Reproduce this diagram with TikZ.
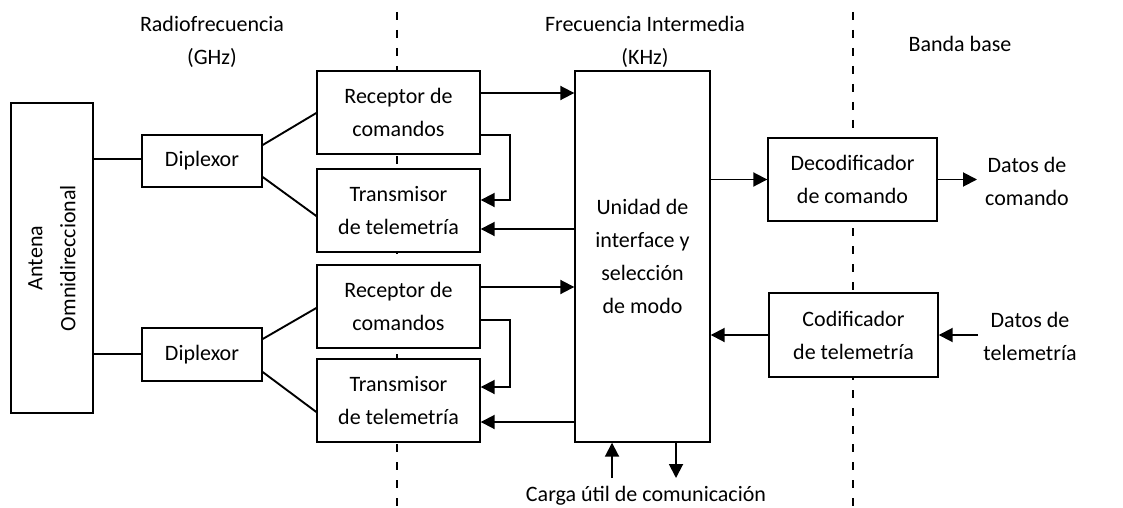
\documentclass[tikz,border=0pt]{standalone}
\usepackage{fontspec}
\setmainfont{Carlito}
\usetikzlibrary{arrows.meta,calc}
\begin{document}
\begin{tikzpicture}[x=1pt,y=-1pt,
  box/.style={draw,fill=white,line width=1.4pt,inner sep=0pt,align=center,font=\fontsize{22}{33}\selectfont},
  lbl/.style={align=center,inner sep=0pt,font=\fontsize{22}{33}\selectfont},
  conn/.style={line width=1.9pt},
  arr/.style={line width=1.9pt,-{Triangle[length=14pt,width=14pt]}},
  divider/.style={line width=2.5pt,dash pattern=on 8pt off 10pt}]
\useasboundingbox (0,0) rectangle (1123,508);
% dividers
\coordinate (d1t) at (397,12); \coordinate (d1b) at (397,508);
\coordinate (d2t) at (853,12); \coordinate (d2b) at (853,508);
\draw[divider] (d1t) -- (d1b);
\draw[divider] (d2t) -- (d2b);
% titles
\node[lbl] (t1) at (212,42) {Radiofrecuencia\\(GHz)};
\node[lbl] (t2) at (645,42) {Frecuencia Intermedia\\(KHz)};
\node[lbl] (t3) at (960,44) {Banda base};
% boxes
\node[box,minimum width=82pt,minimum height=310pt] (ant) at (52,258) {};
\node[lbl,rotate=90] (antt) at (ant.center) {Antena\\Omnidireccional};
\node[box,minimum width=120pt,minimum height=52pt] (dip1) at (202,161) {Diplexor};
\node[box,minimum width=120pt,minimum height=53pt] (dip2) at (202,354.5) {Diplexor};
\node[box,minimum width=163pt,minimum height=83pt] (rec1) at (398.5,112.5) {Receptor de\\comandos};
\node[box,minimum width=163pt,minimum height=83pt] (tx1) at (398.5,210.5) {Transmisor\\de telemetría};
\node[box,minimum width=163pt,minimum height=83pt] (rec2) at (398.5,306.5) {Receptor de\\comandos};
\node[box,minimum width=163pt,minimum height=83pt] (tx2) at (398.5,400.5) {Transmisor\\de telemetría};
\node[box,minimum width=135pt,minimum height=371pt] (unit) at (642.5,256.5) {Unidad de\\interface y\\selección\\de modo};
\node[box,minimum width=169pt,minimum height=83pt] (dec) at (852.5,179.5) {Decodificador\\de comando};
\node[box,minimum width=169pt,minimum height=84pt] (cod) at (853.5,335) {Codificador\\de telemetría};
% outside labels
\node[lbl] (dcom) at (1027,181) {Datos de\\comando};
\node[lbl] (dtel) at (1030,336) {Datos de\\telemetría};
\node[lbl] (carga) at (646,496) {Carga útil de comunicación};
% antenna to diplexors
\draw[conn] (ant.east |- 0,159) -- (dip1.west |- 0,159);
\draw[conn] (ant.east |- 0,354) -- (dip2.west |- 0,354);
% diplexors to rx/tx
\draw[conn] ($(dip1.east)+(0,-16)$) -- ($(rec1.west)+(0,0.5)$);
\draw[conn] ($(dip1.east)+(0,16)$) -- ($(tx1.west)+(0,5.5)$);
\draw[conn] ($(dip2.east)+(0,-15.5)$) -- ($(rec2.west)+(0,1.5)$);
\draw[conn] ($(dip2.east)+(0,17.5)$) -- ($(tx2.west)+(0,11.5)$);
% rx -> unit
\coordinate (r1o) at ($(rec1.east)+(0,-19.5)$);
\draw[arr] (r1o) -- (unit.west |- r1o);
\coordinate (r2o) at ($(rec2.east)+(0,-19.5)$);
\draw[arr] (r2o) -- (unit.west |- r2o);
% rx -> tx loops
\draw[arr] ($(rec1.east)+(0,22.5)$) -- ++(29,0) |- ($(tx1.east)+(0,-10.5)$);
\draw[arr] ($(rec2.east)+(0,13.5)$) -- ++(29,0) |- ($(tx2.east)+(0,-13.5)$);
% unit -> tx
\coordinate (t1i) at ($(tx1.east)+(0,18.5)$);
\draw[arr] (unit.west |- t1i) -- (t1i);
\coordinate (t2i) at ($(tx2.east)+(0,21.5)$);
\draw[arr] (unit.west |- t2i) -- (t2i);
% unit <-> baseband
\draw[arr] (unit.east |- dec.west) -- (dec.west);
\coordinate (decout) at (977,179.5);
\draw[arr] (dec.east) -- (decout);
\draw[arr] (cod.west) -- (unit.east |- cod.west);
\coordinate (codin) at (978,335);
\draw[arr] (codin) -- (cod.east);
% payload
\coordinate (pin) at (612,478);
\coordinate (pout) at (676,478);
\draw[arr] (pin) -- (unit.south -| pin);
\draw[arr] (unit.south -| pout) -- (pout);
\end{tikzpicture}
\end{document}
